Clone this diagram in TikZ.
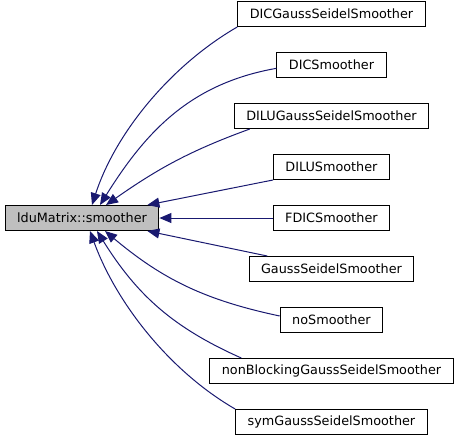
\documentclass[tikz,border=0pt]{standalone}
\usepackage{fontspec}
\setmainfont{DejaVu Sans}
\usetikzlibrary{positioning, arrows.meta}
\definecolor{edgeblue}{HTML}{191970}
\definecolor{basegray}{HTML}{BFBFBF}
\tikzset{
  base/.style={rectangle, draw=black, fill=basegray, line width=0.75pt, minimum height=18.75pt, inner xsep=9pt, inner ysep=2pt, font=\fontsize{9.6}{11}\selectfont},
  derived/.style={base, fill=white},
  inherit/.style={draw=edgeblue, line width=0.75pt, -{Triangle[length=9pt, width=7.5pt]}}
}
\begin{document}
\begin{tikzpicture}[
            node distance=18.75pt and 85pt
        ]
            \useasboundingbox (0,0) rectangle (344.25pt,-332.25pt);

            % Clase base
            \node (smoother) [base] at (61.5pt,-163.5pt) {lduMatrix::smoother};

            % Clases derivadas (columna a la derecha)
            \node (fdic) [derived, right=of smoother] {FDICSmoother};
            \node (dilu) [derived, above=of fdic] {DILUSmoother};
            \node (dilugs) [derived, above=of dilu] {DILUGaussSeidelSmoother};
            \node (dic) [derived, above=of dilugs] {DICSmoother};
            \node (dicgs) [derived, above=of dic] {DICGaussSeidelSmoother};
            \node (gs) [derived, below=of fdic] {GaussSeidelSmoother};
            \node (nosm) [derived, below=of gs] {noSmoother};
            \node (nbgs) [derived, below=of nosm] {nonBlockingGaussSeidelSmoother};
            \node (symgs) [derived, below=of nbgs] {symGaussSeidelSmoother};

            % Herencia: parte superior
            \draw [inherit] (dicgs.south west) to[out=210, in=72, looseness=0.85] ([xshift=7.5pt]smoother.north);
            \draw [inherit] ([yshift=-2.5pt]dic.west) to[out=190, in=58] ([xshift=13.5pt]smoother.north);
            \draw [inherit] ([xshift=12pt]dilugs.south west) to[out=200, in=35] ([xshift=18pt]smoother.north);
            \draw [inherit] (dilu.south west) -- ([xshift=-9pt]smoother.north east);

            % Herencia: centro
            \draw [inherit] (fdic) -- (smoother);

            % Herencia: parte inferior
            \draw [inherit] ([xshift=14pt]gs.north west) -- ([xshift=-9pt]smoother.south east);
            \draw [inherit] ([yshift=3pt]nosm.west) to[out=168, in=-40] ([xshift=17.25pt]smoother.south);
            \draw [inherit] ([xshift=24pt]nbgs.north west) to[out=156, in=-58] ([xshift=11.25pt]smoother.south);
            \draw [inherit] (symgs.north west) to[out=150, in=-70, looseness=0.85] ([xshift=6pt]smoother.south);

        \end{tikzpicture}
\end{document}
